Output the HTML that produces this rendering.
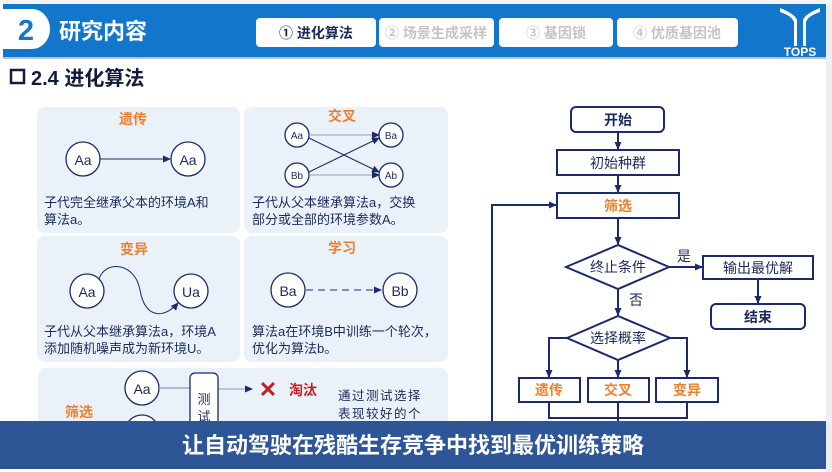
<!DOCTYPE html>
<html><head><meta charset="utf-8"><style>
body{margin:0;width:832px;height:472px;overflow:hidden;background:#fff;font-family:"Liberation Sans","Noto Sans CJK SC",sans-serif;}
svg{position:absolute;left:0;top:0}
</style></head><body>
<svg width="832" height="472" viewBox="0 0 832 472" font-family="Liberation Sans, Noto Sans CJK SC, sans-serif">
<defs>
<marker id="a" markerWidth="8" markerHeight="8" refX="7" refY="4" orient="auto" markerUnits="userSpaceOnUse"><path d="M0,0.5 L8,4 L0,7.5z" fill="#1a2a6c"/></marker>
</defs>
<rect x="826" y="0" width="6" height="472" fill="#eceef2"/>
<rect x="0" y="0" width="832" height="4" fill="#f4f4f4"/>
<!-- header -->
<rect x="3" y="4" width="823" height="53" fill="#1176cc"/>
<rect x="3" y="57" width="823" height="2" fill="#b9c3cf"/>
<path d="M3,9 H32 A18,20 0 0 1 50,29 A18,20 0 0 1 32,49 H3z" fill="#fff"/>
<text x="26" y="40" font-size="29" font-weight="bold" fill="#1176cc" text-anchor="middle">2</text>
<text x="59" y="39" font-size="22" font-weight="bold" fill="#fff">研究内容</text>
<rect x="256" y="18" width="120" height="29" rx="4" fill="#fff"/>
<rect x="379" y="18" width="115" height="29" rx="4" fill="#fff"/>
<rect x="499" y="18" width="114" height="29" rx="4" fill="#fff"/>
<rect x="617" y="18" width="121" height="29" rx="4" fill="#fff"/>
<text x="316" y="38" font-size="14" font-weight="bold" fill="#1a2a5c" text-anchor="middle">① 进化算法</text>
<text x="436" y="38" font-size="14" font-weight="bold" fill="#c4c4c4" text-anchor="middle">② 场景生成采样</text>
<text x="556" y="38" font-size="14" font-weight="bold" fill="#c4c4c4" text-anchor="middle">③ 基因锁</text>
<text x="677" y="38" font-size="14" font-weight="bold" fill="#c4c4c4" text-anchor="middle">④ 优质基因池</text>
<!-- logo -->
<path d="M780,8 Q795,14 797,20 L797,46 L803,46 L803,20 Q805,14 820,8 L820,12 Q808,16 806,22 L806,46 L794,46 L794,22 Q792,16 780,12z" fill="#fff"/>
<text x="800" y="56" font-size="12" font-weight="bold" fill="#fff" text-anchor="middle">TOPS</text>
<!-- section title -->
<rect x="11" y="70" width="13" height="13" fill="none" stroke="#111a40" stroke-width="2.5"/>
<text x="31" y="85" font-size="20" font-weight="bold" fill="#111a40">2.4 进化算法</text>
<!-- panels -->
<g fill="#ebf1f9">
<rect x="37" y="107" width="203" height="126" rx="8"/>
<rect x="244" y="107" width="204" height="126" rx="8"/>
<rect x="37" y="236" width="203" height="126" rx="8"/>
<rect x="244" y="236" width="204" height="126" rx="8"/>
<rect x="38" y="368" width="410" height="60" rx="8"/>
</g>
<g font-size="14" font-weight="bold" fill="#f07f2a" text-anchor="middle">
<text x="133" y="124">遗传</text><text x="342" y="121">交叉</text>
<text x="134" y="254">变异</text><text x="342" y="253">学习</text>
<text x="79" y="417">筛选</text>
</g>
<g fill="#fff" stroke="#1a2a6c" stroke-width="1.3">
<circle cx="83" cy="159" r="17"/><circle cx="188" cy="159" r="17"/>
<circle cx="297" cy="135" r="12"/><circle cx="297" cy="175" r="12"/>
<circle cx="391" cy="135" r="12"/><circle cx="391" cy="175" r="12"/>
<circle cx="87" cy="291" r="17"/><circle cx="191" cy="291" r="17"/>
<circle cx="288" cy="290" r="17"/><circle cx="400" cy="290" r="17"/>
<circle cx="142" cy="388" r="17"/><circle cx="142" cy="432" r="17"/>
</g>
<g stroke="#1a2a6c" stroke-width="1" fill="none" marker-end="url(#a)">
<line x1="100" y1="159" x2="170" y2="159"/>
<line x1="309" y1="135" x2="379" y2="135" stroke="#8aa0c8"/>
<line x1="309" y1="175" x2="379" y2="175" stroke="#8aa0c8"/>
<line x1="309" y1="138" x2="379" y2="172"/>
<line x1="309" y1="172" x2="379" y2="138"/>
<path d="M99,279 C105,260 135,262 140,290 C145,320 165,318 178,303"/>
<line x1="306" y1="290" x2="381" y2="290" stroke-dasharray="7,5"/>
<line x1="218" y1="389" x2="252" y2="389" stroke="#8aa0c8"/>
</g>
<line x1="159" y1="388" x2="190" y2="388" stroke="#8aa0c8" stroke-width="1.2"/>
<g font-size="14" fill="#1a2a5c" text-anchor="middle">
<text x="83" y="165">Aa</text><text x="188" y="165">Aa</text>
<text x="87" y="297">Aa</text><text x="191" y="297">Ua</text>
<text x="288" y="296">Ba</text><text x="400" y="296">Bb</text>
<text x="142" y="394">Aa</text>
</g>
<g font-size="10" fill="#1a2a5c" text-anchor="middle">
<text x="297" y="139">Aa</text><text x="297" y="179">Bb</text>
<text x="391" y="139">Ba</text><text x="391" y="179">Ab</text>
</g>
<g font-size="13" fill="#1a2a5c">
<text x="44" y="207">子代完全继承父本的环境A和</text><text x="44" y="224">算法a。</text>
<text x="252" y="207">子代从父本继承算法a，交换</text><text x="252" y="224">部分或全部的环境参数A。</text>
<text x="44" y="336">子代从父本继承算法a，环境A</text><text x="44" y="353">添加随机噪声成为新环境U。</text>
<text x="252" y="336">算法a在环境B中训练一个轮次，</text><text x="252" y="353">优化为算法b。</text>
</g>
<g font-size="12.5" fill="#1a2a5c" letter-spacing="1.5">
<text x="338" y="400">通过测试选择</text><text x="338" y="418">表现较好的个</text>
</g>
<rect x="190" y="373" width="28" height="60" rx="5" fill="#fff" stroke="#1a2a6c" stroke-width="1.3"/>
<text x="204" y="404" font-size="13" fill="#1a2a5c" text-anchor="middle">测</text>
<text x="204" y="421" font-size="13" fill="#1a2a5c" text-anchor="middle">试</text>
<text x="268" y="397" font-size="22" font-weight="bold" fill="#c0201e" text-anchor="middle">✕</text>
<text x="289" y="395" font-size="14" font-weight="bold" fill="#c0201e">淘汰</text>
<!-- flowchart -->
<g fill="#fff" stroke="#1a2a6c" stroke-width="2">
<rect x="571" y="107" width="93" height="25" rx="5"/>
<rect x="557" y="150" width="122" height="25"/>
<rect x="557" y="193" width="122" height="25"/>
<polygon points="566,267 618,245 669,267 618,289"/>
<rect x="703" y="256" width="110" height="23"/>
<rect x="711" y="304" width="94" height="25" rx="5"/>
<polygon points="567,338 618,316 670,338 618,360"/>
<rect x="519" y="378" width="61" height="24"/>
<rect x="588" y="378" width="61" height="24"/>
<rect x="656" y="378" width="62" height="24"/>
</g>
<g stroke="#1a2a6c" stroke-width="2" fill="none" marker-end="url(#a)">
<line x1="618" y1="132" x2="618" y2="149"/>
<line x1="618" y1="175" x2="618" y2="192"/>
<line x1="618" y1="218" x2="618" y2="244"/>
<line x1="669" y1="267" x2="702" y2="267"/>
<line x1="758" y1="279" x2="758" y2="303"/>
<line x1="618" y1="289" x2="618" y2="315"/>
<path d="M567,338 H549 V377"/>
<line x1="618" y1="360" x2="618" y2="377"/>
<path d="M670,338 H687 V377"/>
<path d="M492,421 V205 H556"/>
</g>
<g stroke="#1a2a6c" stroke-width="2" fill="none">
<path d="M549,402 V418 H687 V402"/><line x1="618" y1="402" x2="618" y2="421"/>
</g>
<g font-size="14" text-anchor="middle">
<text x="618" y="125" font-weight="bold" fill="#1a2a5c">开始</text>
<text x="618" y="168" fill="#1a2a5c">初始种群</text>
<text x="618" y="211" font-weight="bold" fill="#f07f2a">筛选</text>
<text x="618" y="272" fill="#1a2a5c">终止条件</text>
<text x="758" y="273" fill="#1a2a5c">输出最优解</text>
<text x="758" y="322" font-weight="bold" fill="#1a2a5c">结束</text>
<text x="618" y="343" fill="#1a2a5c">选择概率</text>
<text x="549" y="395" font-weight="bold" fill="#f07f2a">遗传</text>
<text x="618" y="395" font-weight="bold" fill="#f07f2a">交叉</text>
<text x="687" y="395" font-weight="bold" fill="#f07f2a">变异</text>
<text x="684" y="261" fill="#1a2a5c">是</text>
<text x="636" y="305" fill="#1a2a5c">否</text>
</g>
<!-- banner -->
<rect x="0" y="421" width="826" height="48" fill="#2e5596"/>
<text x="413" y="453" font-size="22" font-weight="bold" fill="#fff" text-anchor="middle">让自动驾驶在残酷生存竞争中找到最优训练策略</text>
</svg>
</body></html>
